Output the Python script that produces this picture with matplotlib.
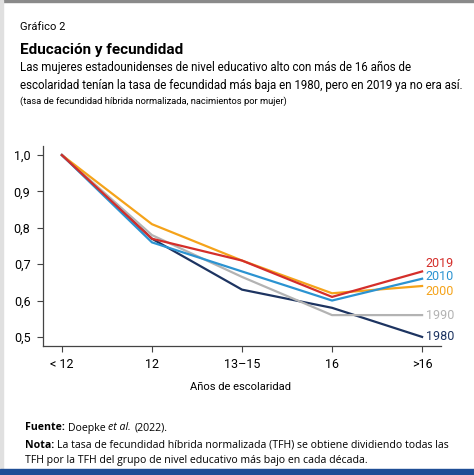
import matplotlib.pyplot as plt
from matplotlib.patches import Rectangle

NARROW = ["Roboto", "Liberation Sans", "DejaVu Sans"]
plt.rcParams["font.family"] = NARROW

categories = ["< 12", "12", "13\u201315", "16", ">16"]
years = ["1980", "1990", "2000", "2010", "2019"]
series = {
    "1980": [1.00, 0.77, 0.63, 0.58, 0.50],
    "1990": [1.00, 0.78, 0.665, 0.56, 0.56],
    "2000": [1.00, 0.81, 0.71, 0.62, 0.64],
    "2010": [1.00, 0.76, 0.68, 0.60, 0.66],
    "2019": [1.00, 0.77, 0.71, 0.61, 0.68],
}
yticks = [0.5, 0.6, 0.7, 0.8, 0.9, 1.0]

colors = {
    "1980": "#1d3461",
    "1990": "#b3b3b3",
    "2000": "#f5a31a",
    "2010": "#2b93d1",
    "2019": "#d42e2a",
}
label_y = {"1980": 0.50, "1990": 0.56, "2000": 0.625, "2010": 0.665, "2019": 0.703}

W, H = 474, 475
fig = plt.figure(figsize=(W / 100, H / 100), dpi=100)
renderer = fig.canvas.get_renderer()


def px_text(x, y, s, size, **kw):
    return fig.text(x / W, 1 - y / H, s, fontsize=size, va="center", **kw)


def fit_size(s, width, size=10, **kw):
    """Font size at which s spans `width` px."""
    t = fig.text(0, 0, s, fontsize=size, **kw)
    w = t.get_window_extent(renderer).width
    t.remove()
    return size * width / w


def after(t, s, gap=3, **kw):
    """Text that continues right after text t on the same line."""
    bb = t.get_window_extent(renderer)
    x0, y0 = t.get_position()
    return fig.text((bb.x1 + gap) / W, y0, s, fontsize=t.get_fontsize(), va="center", **kw)


# frame decorations
fig.patches.append(Rectangle((0, 1 - 2 / H), 1, 2 / H, transform=fig.transFigure, color="#8a8a8a"))
fig.patches.append(Rectangle((0, 0), 3 / W, 1, transform=fig.transFigure, color="#e0e0e0"))
fig.patches.append(Rectangle((0, 0), 1, 6 / H, transform=fig.transFigure, color="#1f4e96"))

ax = fig.add_axes([43 / W, 1 - 346 / H, (441 - 43) / W, (346 - 146) / H])
x = list(range(len(categories)))
for yr in years:
    ax.plot(x, series[yr], color=colors[yr], lw=1.6, solid_joinstyle="miter")
    ax.text(4.04, label_y[yr], yr, color=colors[yr], fontsize=9, va="center", ha="left")

ax.set_xlim(-0.21, 4.21)
ax.set_ylim(0.475, 1.025)
ax.set_xticks(x)
ax.set_xticklabels(categories, fontsize=9)
ax.set_yticks(yticks)
ax.set_yticklabels([f"{v:.1f}".replace(".", ",") for v in yticks], fontsize=9)
for s in ["top", "right"]:
    ax.spines[s].set_visible(False)
for s in ["left", "bottom"]:
    ax.spines[s].set_color("#444444")
    ax.spines[s].set_linewidth(0.9)
ax.tick_params(axis="both", length=4, width=0.8, color="#444444", pad=5)

fig.text(241 / W, 1 - 387 / H, "A\u00f1os de escolaridad", ha="center", va="center", fontsize=8)

px_text(20, 27, "Gr\u00e1fico 2", 8)
px_text(20, 50, "Educaci\u00f3n y fecundidad", 11, fontweight="bold")
sub1 = "Las mujeres estadounidenses de nivel educativo alto con m\u00e1s de 16 a\u00f1os de"
sub2 = "escolaridad ten\u00edan la tasa de fecundidad m\u00e1s baja en 1980, pero en 2019 ya no era as\u00ed."
sub_fs = fit_size(sub2, 445)
px_text(20, 67, sub1, sub_fs)
px_text(20, 85, sub2, sub_fs)
sub3 = "(tasa de fecundidad h\u00edbrida normalizada, nacimientos por mujer)"
px_text(20, 101, sub3, fit_size(sub3, 268))

foot = ["Open Sans", "DejaVu Sans"]
fs = fit_size("Nota: La tasa de fecundidad h\u00edbrida normalizada (TFH) se obtiene dividiendo todas las",
              418, family=foot)

nota = px_text(25, 445, "Nota:", fs, fontweight="bold", family=foot)
after(nota, "La tasa de fecundidad h\u00edbrida normalizada (TFH) se obtiene dividiendo todas las", family=foot)
fuente = px_text(25, 428, "Fuente:", fs, fontweight="bold", family=foot)
t1 = after(fuente, "Doepke", family=foot)
t2 = after(t1, "et al.", style="italic", family=foot)
after(t2, "(2022).", family=foot)
px_text(25, 461, "TFH por la TFH del grupo de nivel educativo m\u00e1s bajo en cada d\u00e9cada.", fs, family=foot)

fig.savefig("out.png", dpi=100)
